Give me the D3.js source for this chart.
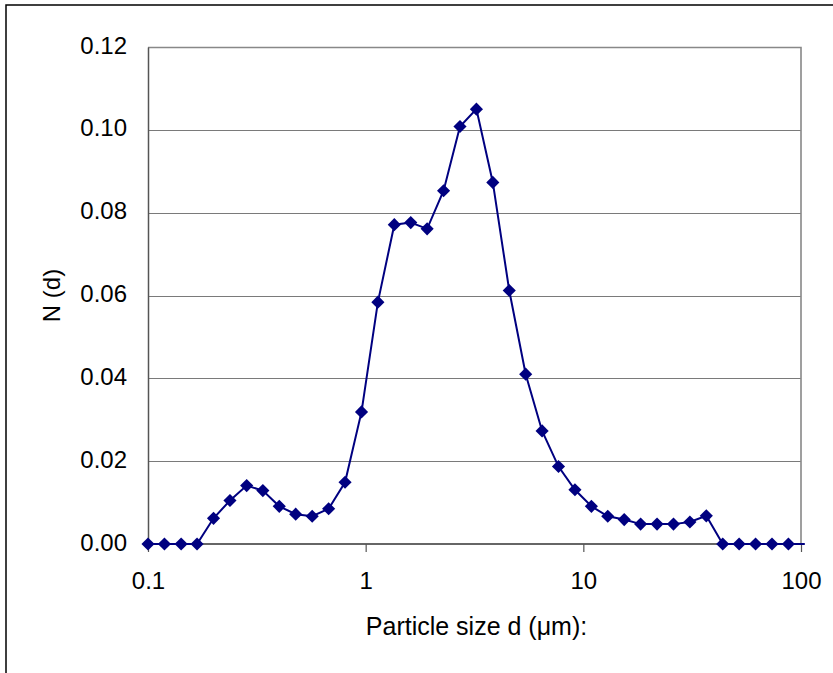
<!DOCTYPE html>
<meta charset="utf-8">
<style>
body { margin: 0; background: #fff; }
svg { display: block; font-family: "Liberation Sans", Arial, sans-serif; }
.grid line { stroke: #7a7a7a; stroke-width: 1.2px; }
.line { fill: none; stroke: #000080; stroke-width: 2px; }
.dot { fill: #000080; }
</style>
<svg width="833" height="673"></svg>
<script src="https://cdn.jsdelivr.net/npm/d3@7"></script>
<script>
// particle size classes (um) and number fraction N(d)
var sizes = [0.100, 0.119, 0.142, 0.168, 0.200, 0.238, 0.284, 0.337, 0.401, 0.477,
             0.568, 0.676, 0.804, 0.957, 1.138, 1.354, 1.611, 1.916, 2.280, 2.712,
             3.227, 3.839, 4.567, 5.434, 6.465, 7.691, 9.150, 10.89, 12.95, 15.41,
             18.33, 21.81, 25.95, 30.87, 36.72, 43.69, 51.98, 61.84, 73.57, 87.53, 104.1];
var nd = [0, 0, 0, 0, 0.0062, 0.0105, 0.0141, 0.0129, 0.0091, 0.0072,
          0.0067, 0.0085, 0.0149, 0.0319, 0.0584, 0.0771, 0.0776, 0.0761, 0.0853, 0.1008,
          0.1050, 0.0873, 0.0612, 0.0410, 0.0273, 0.0187, 0.0131, 0.0091, 0.0067, 0.0059,
          0.0048, 0.0048, 0.0048, 0.0053, 0.0068, 0, 0, 0, 0, 0, 0];
var xTicks = [0.1, 1, 10, 100];
var yTicks = [0, 0.02, 0.04, 0.06, 0.08, 0.10, 0.12];

var svg = d3.select("svg");
var plotL = 148, plotR = 801, plotT = 47, plotB = 544;

var x = d3.scaleLog().domain([0.1, 100]).range([plotL, plotR]);
var y = d3.scaleLinear().domain([0, 0.12]).range([plotB, plotT]);

var points = sizes.map(function(d, i) { return {d: d, n: nd[i]}; });

// outer chart frame
svg.append("rect")
    .attr("x", 6).attr("y", 5)
    .attr("width", 900).attr("height", 700)
    .attr("fill", "#fff")
    .attr("stroke", "#000").attr("stroke-width", 1.5);

// horizontal gridlines
svg.append("g").attr("class", "grid")
    .selectAll("line")
    .data(yTicks.slice(1))
    .enter().append("line")
    .attr("x1", plotL).attr("x2", plotR)
    .attr("y1", function(d) { return Math.round(y(d)) + 0.5; })
    .attr("y2", function(d) { return Math.round(y(d)) + 0.5; });

// plot area border on top / right
svg.append("path")
    .attr("d", "M" + plotL + "," + (plotT + 0.5) + "H" + plotR + "V" + plotB)
    .attr("fill", "none").attr("stroke", "#888").attr("stroke-width", 1.6);

// y axis
var yAxis = d3.axisLeft(y).tickValues(yTicks).tickSize(0).tickPadding(21)
    .tickFormat(d3.format(".2f"));
var gy = svg.append("g").attr("transform", "translate(" + plotL + ",0)").call(yAxis);
gy.select(".domain").attr("stroke", "#555").attr("stroke-width", 1.5);
gy.selectAll("text").attr("font-size", 24).attr("fill", "#000")
    .attr("font-family", "Liberation Sans, Arial, sans-serif")
    .attr("dy", "0.25em");

// x axis (log)
var xAxis = d3.axisBottom(x).tickValues(xTicks).tickSize(8).tickPadding(20)
    .tickFormat(function(d) { return d3.format("~g")(d); });
var gx = svg.append("g").attr("transform", "translate(0," + plotB + ")").call(xAxis);
gx.select(".domain").attr("stroke", "#333").attr("stroke-width", 1.5)
    .attr("d", "M" + plotL + ",0H" + plotR);
gx.selectAll(".tick line").attr("stroke", "#555").attr("stroke-width", 1.2);
gx.selectAll("text").attr("font-size", 24).attr("fill", "#000")
    .attr("font-family", "Liberation Sans, Arial, sans-serif");

// series line
var line = d3.line()
    .x(function(d) { return x(d.d); })
    .y(function(d) { return y(d.n); });

svg.append("path").datum(points)
    .attr("class", "line")
    .attr("d", line);

// diamond markers (only inside the x range)
var diamond = d3.symbol().type(d3.symbolDiamond2).size(110);
svg.selectAll(".dot")
    .data(points.filter(function(d) { return d.d <= 100; }))
    .enter().append("path")
    .attr("class", "dot")
    .attr("d", diamond)
    .attr("transform", function(d) { return "translate(" + x(d.d) + "," + y(d.n) + ")"; });

// axis titles
svg.append("text")
    .attr("x", (plotL + plotR) / 2 + 2).attr("y", 635)
    .attr("text-anchor", "middle")
    .attr("font-size", 25)
    .text("Particle size d (μm):");

svg.append("text")
    .attr("transform", "translate(60," + (plotT + plotB) / 2 + ") rotate(-90)")
    .attr("text-anchor", "middle")
    .attr("font-size", 24)
    .text("N (d)");
</script>
